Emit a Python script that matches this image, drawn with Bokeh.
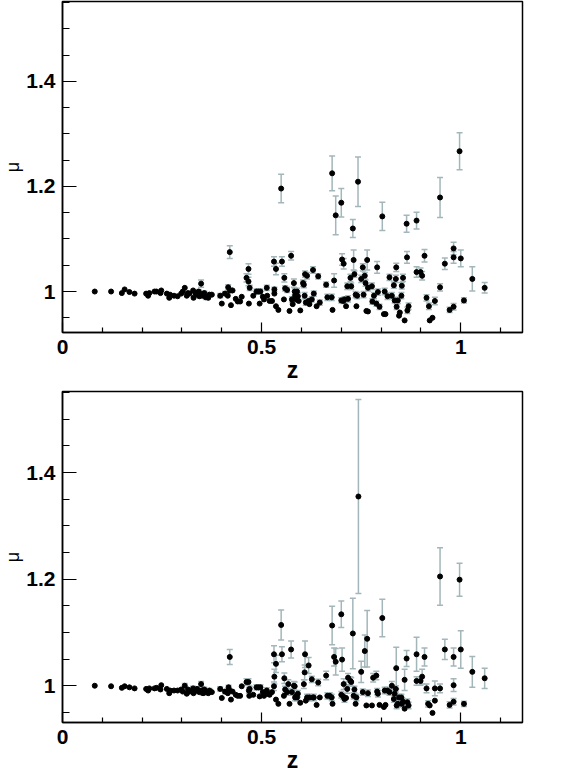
from bokeh.plotting import figure
from bokeh.layouts import column
from bokeh.models import (ColumnDataSource, Range1d, FixedTicker, Whisker, TeeHead)
from bokeh.embed import file_html
from bokeh.resources import INLINE

# ---------------- data ----------------
z_top = [0.081, 0.122, 0.149, 0.156, 0.168, 0.181, 0.210, 0.215, 0.218, 0.231, 0.236, 0.246, 0.248,
         0.262, 0.268, 0.270, 0.280, 0.289, 0.298, 0.302, 0.307, 0.312, 0.315, 0.319, 0.328, 0.329,
         0.334, 0.338, 0.342, 0.344, 0.348, 0.349, 0.353, 0.356, 0.360, 0.366, 0.369, 0.375,
         0.396, 0.400, 0.408, 0.415, 0.416, 0.420, 0.423, 0.427, 0.435, 0.440, 0.446, 0.450,
         0.420, 0.462, 0.467, 0.467, 0.470, 0.468, 0.479, 0.487, 0.492, 0.497, 0.495, 0.503,
         0.506, 0.513, 0.514, 0.520, 0.526, 0.531, 0.536, 0.532, 0.532, 0.536, 0.542, 0.549,
         0.551, 0.557, 0.556, 0.559, 0.564, 0.570, 0.574, 0.576, 0.578, 0.581, 0.583, 0.584,
         0.587, 0.589, 0.591, 0.593, 0.597, 0.604, 0.606, 0.608, 0.609, 0.611, 0.614, 0.618,
         0.620, 0.626, 0.629, 0.631, 0.638, 0.642, 0.646, 0.662, 0.665, 0.677, 0.678, 0.676,
         0.682, 0.686, 0.700, 0.702, 0.706, 0.700, 0.705, 0.708, 0.712, 0.717, 0.715, 0.723,
         0.725, 0.729, 0.731, 0.733, 0.736, 0.738, 0.740, 0.742, 0.750, 0.754, 0.756, 0.759,
         0.761, 0.763, 0.767, 0.765, 0.767, 0.777, 0.778, 0.782, 0.788, 0.790, 0.792, 0.796,
         0.803, 0.807, 0.811, 0.809, 0.816, 0.821, 0.827, 0.832, 0.834, 0.837, 0.838, 0.839,
         0.842, 0.845, 0.847, 0.851, 0.852, 0.855, 0.859, 0.864, 0.865, 0.866, 0.869, 0.889,
         0.889, 0.899, 0.903, 0.909, 0.914, 0.920, 0.922, 0.929, 0.935, 0.948, 0.948, 0.960,
         0.972, 0.982, 0.982, 0.982, 0.997, 1.000, 1.008, 1.029, 1.060]
mu_top = [1.000, 1.000, 0.997, 1.004, 0.999, 0.996, 0.996, 0.992, 0.997, 1.000, 1.000, 0.997, 1.002,
          0.996, 0.988, 0.994, 0.992, 0.991, 0.996, 1.000, 1.007, 0.992, 0.997, 0.996, 1.002, 0.988,
          0.997, 0.994, 1.000, 0.991, 1.015, 0.995, 0.992, 0.997, 0.989, 0.988, 0.994, 0.994,
          0.992, 0.977, 0.996, 0.992, 1.008, 1.002, 0.974, 1.002, 0.986, 0.981, 0.981, 0.990,
          1.075, 1.026, 1.043, 1.019, 1.007, 0.977, 0.992, 1.000, 1.000, 1.000, 0.977, 0.990,
          0.985, 1.007, 0.992, 0.982, 0.982, 1.057, 1.043, 1.004, 0.996, 0.972, 0.965, 1.196,
          1.057, 1.026, 0.985, 1.006, 1.003, 0.963, 1.068, 0.985, 0.976, 1.016, 1.000, 0.992,
          0.985, 1.000, 0.991, 0.982, 0.964, 1.016, 1.013, 0.992, 1.033, 0.979, 1.030, 0.982,
          0.976, 0.985, 1.041, 0.996, 0.972, 1.029, 0.979, 1.013, 0.989, 1.225, 0.965, 0.989,
          1.021, 1.145, 1.169, 1.061, 1.053, 0.983, 0.982, 0.985, 0.972, 0.986, 1.010, 1.026,
          1.010, 1.120, 1.060, 1.033, 0.994, 0.972, 0.992, 1.209, 1.024, 1.046, 0.994, 1.030,
          1.016, 0.963, 0.962, 1.060, 1.007, 1.010, 0.981, 0.992, 0.977, 1.046, 0.999, 0.971,
          1.143, 0.957, 0.957, 1.000, 0.991, 1.027, 0.992, 1.012, 0.983, 1.024, 1.046, 0.971,
          0.983, 0.954, 0.960, 0.992, 1.011, 1.026, 0.945, 1.129, 1.065, 0.964, 0.972, 1.135,
          1.037, 1.037, 1.030, 1.068, 0.988, 0.972, 0.945, 0.950, 0.982, 1.008, 1.179, 1.053,
          0.965, 0.971, 1.082, 1.065, 1.267, 1.063, 0.983, 1.024, 1.007]
err_top = [0, 0, 0, 0, 0, 0, 0, 0, 0, 0, 0, 0, 0,
           0, 0, 0, 0, 0, 0, 0, 0, 0, 0, 0, 0, 0,
           0.004, 0.004, 0.004, 0.004, 0.007, 0.004, 0.004, 0.004, 0.004, 0, 0.004, 0,
           0.004, 0, 0.004, 0, 0.005, 0.005, 0, 0, 0, 0, 0, 0,
           0.012, 0.008, 0.010, 0.008, 0.005, 0, 0, 0.005, 0.005, 0.005, 0, 0,
           0, 0.005, 0, 0, 0, 0.009, 0.011, 0.004, 0, 0, 0, 0.027,
           0.009, 0.008, 0, 0.005, 0.005, 0, 0.008, 0.005, 0, 0.008, 0.006, 0.006,
           0.005, 0.006, 0.006, 0, 0, 0.006, 0.006, 0.006, 0.006, 0.005, 0.006, 0.005,
           0, 0.005, 0.006, 0.005, 0, 0.005, 0.005, 0.005, 0.006, 0.033, 0, 0.006,
           0.013, 0.037, 0.027, 0.011, 0.010, 0.005, 0.005, 0.005, 0, 0.006, 0.006, 0.007,
           0.006, 0.017, 0.019, 0.006, 0.006, 0, 0.006, 0.047, 0.007, 0.007, 0.006, 0.006,
           0.006, 0, 0, 0.019, 0.006, 0.006, 0.005, 0.006, 0.005, 0.011, 0.006, 0.005,
           0.027, 0, 0, 0.006, 0.006, 0.006, 0.006, 0.006, 0.005, 0.007, 0.008, 0.005,
           0.006, 0, 0, 0.006, 0.006, 0.007, 0, 0.016, 0.011, 0.006, 0.006, 0.016,
           0.010, 0.008, 0.008, 0.012, 0.006, 0.006, 0, 0, 0.007, 0.007, 0.038, 0.011,
           0.005, 0.006, 0.012, 0.011, 0.035, 0.016, 0.005, 0.023, 0.010]

z_bot = [0.081, 0.122, 0.149, 0.156, 0.168, 0.181, 0.210, 0.215, 0.218, 0.231, 0.236, 0.246, 0.248,
         0.262, 0.268, 0.270, 0.280, 0.289, 0.298, 0.302, 0.307, 0.312, 0.315, 0.319, 0.328, 0.329,
         0.334, 0.338, 0.342, 0.344, 0.348, 0.349, 0.353, 0.356, 0.360, 0.366, 0.369, 0.375,
         0.396, 0.400, 0.408, 0.415, 0.417, 0.420, 0.423, 0.427, 0.435, 0.440, 0.446, 0.450,
         0.420, 0.462, 0.467, 0.468, 0.470, 0.469, 0.479, 0.487, 0.492, 0.497, 0.495, 0.503,
         0.506, 0.513, 0.514, 0.520, 0.526, 0.531, 0.532, 0.531, 0.536, 0.536, 0.542, 0.549,
         0.551, 0.557, 0.556, 0.559, 0.564, 0.567, 0.570, 0.574, 0.576, 0.581, 0.583, 0.584,
         0.587, 0.589, 0.591, 0.597, 0.606, 0.608, 0.609, 0.611, 0.618, 0.614, 0.620, 0.626,
         0.629, 0.631, 0.638, 0.642, 0.646, 0.662, 0.665, 0.671, 0.677, 0.678, 0.676, 0.682,
         0.686, 0.700, 0.702, 0.706, 0.700, 0.705, 0.708, 0.712, 0.717, 0.715, 0.723, 0.725,
         0.729, 0.731, 0.733, 0.736, 0.738, 0.743, 0.750, 0.754, 0.759, 0.765, 0.763, 0.767,
         0.777, 0.780, 0.788, 0.790, 0.792, 0.796, 0.803, 0.807, 0.811, 0.809, 0.816, 0.821,
         0.827, 0.832, 0.834, 0.837, 0.838, 0.839, 0.842, 0.845, 0.851, 0.852, 0.855, 0.859,
         0.859, 0.864, 0.866, 0.869, 0.889, 0.889, 0.899, 0.903, 0.909, 0.914, 0.918, 0.922,
         0.929, 0.935, 0.935, 0.948, 0.948, 0.960, 0.972, 0.982, 0.982, 0.982, 0.997, 1.000,
         1.008, 1.029, 1.060]
mu_bot = [1.000, 0.999, 0.996, 0.999, 0.997, 0.995, 0.994, 0.991, 0.995, 0.995, 0.996, 0.993, 1.001,
          0.994, 0.986, 0.991, 0.991, 0.991, 0.993, 0.989, 1.000, 0.985, 0.993, 0.989, 0.995, 0.986,
          0.991, 0.994, 0.989, 0.988, 1.003, 0.991, 0.986, 0.993, 0.988, 0.986, 0.991, 0.988,
          0.994, 0.977, 0.989, 0.986, 0.997, 0.991, 0.974, 0.989, 0.983, 0.981, 0.981, 0.999,
          1.054, 1.007, 1.007, 0.991, 0.994, 0.981, 0.983, 0.997, 0.997, 0.997, 0.980, 0.988,
          0.981, 0.991, 0.985, 0.983, 0.988, 1.059, 1.017, 0.999, 1.041, 0.974, 0.966, 1.114,
          1.059, 1.014, 0.981, 0.993, 0.988, 1.003, 0.966, 1.068, 0.988, 1.000, 0.999, 0.978,
          0.981, 0.978, 0.985, 0.968, 1.003, 1.025, 1.059, 0.972, 1.038, 0.978, 0.978, 1.012,
          0.978, 0.978, 0.964, 1.006, 0.978, 1.019, 0.981, 0.981, 1.113, 0.966, 0.978, 1.054,
          1.045, 1.134, 1.049, 1.003, 0.983, 0.980, 0.975, 0.977, 1.015, 0.994, 1.009, 1.007,
          1.098, 0.981, 0.993, 0.966, 0.978, 1.355, 1.026, 0.988, 1.065, 1.088, 0.963, 0.986,
          0.963, 1.015, 1.019, 0.989, 0.985, 0.964, 1.127, 0.960, 0.964, 0.991, 0.991, 0.988,
          1.000, 0.975, 0.985, 0.994, 1.033, 0.963, 0.966, 0.978, 0.978, 0.966, 0.970, 0.957,
          1.011, 1.051, 0.969, 0.963, 1.059, 1.009, 1.009, 1.017, 1.054, 0.995, 0.966, 0.963,
          0.949, 0.972, 0.995, 1.205, 0.995, 1.068, 0.964, 0.970, 1.054, 1.001, 1.199, 1.068,
          0.966, 1.026, 1.014]
err_bot = [0, 0, 0, 0, 0, 0, 0, 0, 0, 0, 0, 0, 0,
           0, 0, 0, 0, 0, 0, 0, 0.004, 0, 0, 0, 0.004, 0,
           0.004, 0.004, 0.004, 0, 0.005, 0.004, 0.004, 0.004, 0.004, 0, 0.004, 0,
           0.004, 0, 0.004, 0, 0.004, 0, 0, 0, 0, 0, 0, 0,
           0.014, 0.006, 0.006, 0.005, 0.005, 0, 0, 0.005, 0.005, 0.005, 0, 0,
           0, 0.005, 0, 0, 0, 0.016, 0.014, 0.008, 0.016, 0, 0, 0.028,
           0.014, 0.010, 0, 0.006, 0.006, 0.008, 0, 0.016, 0.006, 0.008, 0.008, 0.006,
           0.006, 0.006, 0.006, 0, 0.008, 0.014, 0.025, 0, 0.015, 0.006, 0.006, 0.006,
           0, 0.006, 0, 0.006, 0, 0.008, 0.006, 0.006, 0.036, 0, 0.006, 0.017,
           0.025, 0.025, 0.022, 0.010, 0.006, 0.006, 0.006, 0, 0.008, 0.008, 0.008, 0.008,
           0.066, 0.006, 0.006, 0, 0.006, 0.182, 0.020, 0.006, 0.030, 0.053, 0, 0.006,
           0, 0.008, 0.008, 0.006, 0.006, 0, 0.035, 0, 0, 0.006, 0.006, 0.006,
           0.008, 0.006, 0.006, 0.006, 0.039, 0.006, 0.006, 0.006, 0.006, 0.006, 0.006, 0,
           0.020, 0.015, 0.006, 0.006, 0.032, 0.008, 0.008, 0.014, 0.017, 0.008, 0.006, 0,
           0, 0, 0.014, 0.054, 0.008, 0.019, 0.006, 0.006, 0.017, 0.012, 0.031, 0.035,
           0.005, 0.029, 0.019]

x_ticks = [0, 0.5, 1]
x_tick_labels = ["0", "0.5", "1"]
y_ticks = [1.0, 1.2, 1.4]
y_tick_labels = ["1", "1.2", "1.4"]
x_minor = [0.1, 0.2, 0.3, 0.4, 0.6, 0.7, 0.8, 0.9, 1.1]
y_minor = [0.95, 1.05, 1.1, 1.15, 1.25, 1.3, 1.35, 1.45, 1.5, 1.55]

ERR_COLOR = "#a3b6ba"
FONT = "Liberation Sans"


def panel(z, mu, err, y_lo, top_border):
    p = figure(frame_width=460, frame_height=331, output_backend="svg", toolbar_location=None,
               x_range=Range1d(0, 1.155), y_range=Range1d(y_lo, 1.552),
               min_border_left=54, min_border_right=37, min_border_top=top_border,
               min_border_bottom=48)
    p.grid.visible = False
    p.outline_line_color = "black"
    p.outline_line_width = 1.5
    p.background_fill_color = "white"
    p.border_fill_color = "white"

    zs = [a for a, e in zip(z, err) if e > 0]
    up = [m + e for m, e in zip(mu, err) if e > 0]
    lo = [m - e for m, e in zip(mu, err) if e > 0]
    wsrc = ColumnDataSource(dict(z=zs, up=up, lo=lo))
    w = Whisker(source=wsrc, base="z", upper="up", lower="lo", dimension="height",
                line_color=ERR_COLOR, line_width=1.5,
                upper_head=TeeHead(size=6, line_color=ERR_COLOR, line_width=1.5),
                lower_head=TeeHead(size=6, line_color=ERR_COLOR, line_width=1.5))
    p.add_layout(w)

    src = ColumnDataSource(dict(z=z, mu=mu))
    p.scatter("z", "mu", source=src, size=5, color="black", marker="circle")

    xa = p.xaxis[0]
    xa.ticker = FixedTicker(ticks=x_ticks, minor_ticks=x_minor)
    xa.major_label_overrides = {t: s for t, s in zip(x_ticks, x_tick_labels)}
    ya = p.yaxis[0]
    ya.ticker = FixedTicker(ticks=y_ticks, minor_ticks=y_minor)
    ya.major_label_overrides = {t: s for t, s in zip(y_ticks, y_tick_labels)}

    for ax in (xa, ya):
        ax.axis_line_color = "black"
        ax.axis_line_width = 1.5
        ax.major_tick_out = 0
        ax.minor_tick_out = 0
        ax.major_tick_line_color = "black"
        ax.minor_tick_line_color = "black"
        ax.major_tick_line_width = 1.2
        ax.minor_tick_line_width = 1.2
        ax.major_label_text_font = FONT
        ax.major_label_text_font_style = "bold"
        ax.major_label_text_font_size = "21px"
        ax.major_label_text_color = "black"
        ax.major_label_standoff = 7
    xa.major_tick_in = 10
    xa.minor_tick_in = 5
    ya.major_tick_in = 14
    ya.minor_tick_in = 7

    xa.axis_label = "z"
    xa.axis_label_text_font = FONT
    xa.axis_label_text_font_style = "bold"
    xa.axis_label_text_font_size = "23px"
    xa.axis_label_text_color = "black"
    xa.axis_label_standoff = 0

    ya.axis_label = "μ"
    ya.axis_label_text_font = FONT
    ya.axis_label_text_font_style = "normal"
    ya.axis_label_text_font_size = "18px"
    ya.axis_label_text_color = "black"
    ya.axis_label_standoff = 0
    return p


p1 = panel(z_top, mu_top, err_top, 0.922, 1)
p2 = panel(z_bot, mu_bot, err_bot, 0.931, 6)

layout = column(p1, p2, spacing=0)
open("out.html", "w").write(file_html(layout, INLINE))
